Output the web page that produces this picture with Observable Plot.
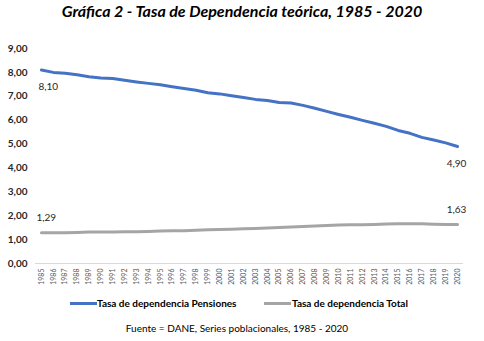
<!DOCTYPE html>
<html>
<head>
<meta charset="utf-8">
<script src="https://cdn.jsdelivr.net/npm/d3@7"></script>
<script src="https://cdn.jsdelivr.net/npm/@observablehq/plot@0.6"></script>
<style>
  html, body { margin: 0; padding: 0; background: #fff; }
  body { width: 484px; height: 341px; position: relative; overflow: hidden; font-family: Lato, "Open Sans", sans-serif; }
  #title { position: absolute; left: 0; top: 1px; width: 484px; text-align: center; font-size: 16px; font-weight: bold; font-style: italic; color: #000; }
  #chart { position: absolute; left: 0; top: 28px; }
  .leg { position: absolute; top: 297px; font-size: 10px; font-weight: bold; color: #000; white-space: nowrap; }
  .sw { position: absolute; top: 302px; height: 3px; width: 27px; }
  #caption { position: absolute; left: 0; top: 322px; width: 474px; text-align: center; font-size: 10px; color: #000; }
</style>
</head>
<body>
<div id="title">Gráfica 2 - Tasa de Dependencia teórica, 1985 - 2020</div>
<div id="chart"></div>
<div class="sw" style="left:70px;background:#4472C4"></div>
<div class="leg" style="left:97px">Tasa de dependencia Pensiones</div>
<div class="sw" style="left:264px;background:#A5A5A5"></div>
<div class="leg" style="left:292px">Tasa de dependencia Total</div>
<div id="caption">Fuente = DANE, Series poblacionales, 1985 - 2020</div>
<script>
const years = [1985,1986,1987,1988,1989,1990,1991,1992,1993,1994,1995,1996,1997,1998,1999,2000,2001,2002,2003,2004,2005,2006,2007,2008,2009,2010,2011,2012,2013,2014,2015,2016,2017,2018,2019,2020];
const pensiones = [8.10,8.00,7.96,7.90,7.82,7.77,7.74,7.67,7.60,7.54,7.48,7.40,7.33,7.25,7.15,7.10,7.02,6.95,6.87,6.82,6.74,6.72,6.62,6.50,6.37,6.24,6.12,5.99,5.87,5.74,5.57,5.45,5.28,5.17,5.05,4.90];
const total = [1.29,1.29,1.29,1.30,1.32,1.32,1.32,1.33,1.33,1.34,1.36,1.37,1.37,1.39,1.41,1.42,1.43,1.45,1.47,1.49,1.51,1.53,1.55,1.57,1.59,1.61,1.62,1.62,1.63,1.65,1.66,1.66,1.66,1.64,1.63,1.63];
const seriesNames = ["Tasa de dependencia Pensiones", "Tasa de dependencia Total"];
const seriesColors = ["#4472C4", "#A5A5A5"];
const yTicks = [0,1,2,3,4,5,6,7,8,9];

const fmt = v => v.toFixed(2).replace(".", ",");
const rows = [];
years.forEach((yr, i) => {
  rows.push({year: yr, value: pensiones[i], series: seriesNames[0]});
  rows.push({year: yr, value: total[i], series: seriesNames[1]});
});
const first = years[0], last = years[years.length - 1];
const below = [
  {year: first, value: pensiones[0], anchor: "start", dx: -3},
  {year: last, value: pensiones[pensiones.length - 1], anchor: "middle", dx: -1}
];
const above = [
  {year: first, value: total[0], anchor: "start", dx: -5},
  {year: last, value: total[total.length - 1], anchor: "middle", dx: -1}
];

const chart = Plot.plot({
  width: 484,
  height: 262,
  marginLeft: 35,
  marginRight: 21,
  marginTop: 20,
  marginBottom: 27,
  style: {fontFamily: "Lato, 'Open Sans', sans-serif", background: "white", overflow: "visible"},
  x: {type: "point", domain: years, padding: 0.5},
  y: {domain: [0, 9]},
  color: {domain: seriesNames, range: seriesColors},
  marks: [
    Plot.axisY({ticks: yTicks, tickSize: 0, tickPadding: 8, tickFormat: fmt, fontSize: 10, fontWeight: "bold", fill: "#262626", label: null}),
    Plot.axisX({tickSize: 0, tickRotate: -90, tickPadding: 5, fontSize: 7, fill: "#595959", tickFormat: d => String(d), label: null}),
    Plot.ruleY([0], {stroke: "#d9d9d9", strokeWidth: 1}),
    Plot.line(rows, {x: "year", y: "value", z: "series", stroke: "series", strokeWidth: 3, curve: "linear"}),
    ...below.map(d => Plot.text([d], {x: "year", y: "value", text: r => fmt(r.value), textAnchor: d.anchor, dx: d.dx, dy: 17, fontSize: 10, fill: "#262626"})),
    ...above.map(d => Plot.text([d], {x: "year", y: "value", text: r => fmt(r.value), textAnchor: d.anchor, dx: d.dx, dy: -15, fontSize: 10, fill: "#262626"}))
  ]
});
document.getElementById("chart").appendChild(chart);
</script>
</body>
</html>
